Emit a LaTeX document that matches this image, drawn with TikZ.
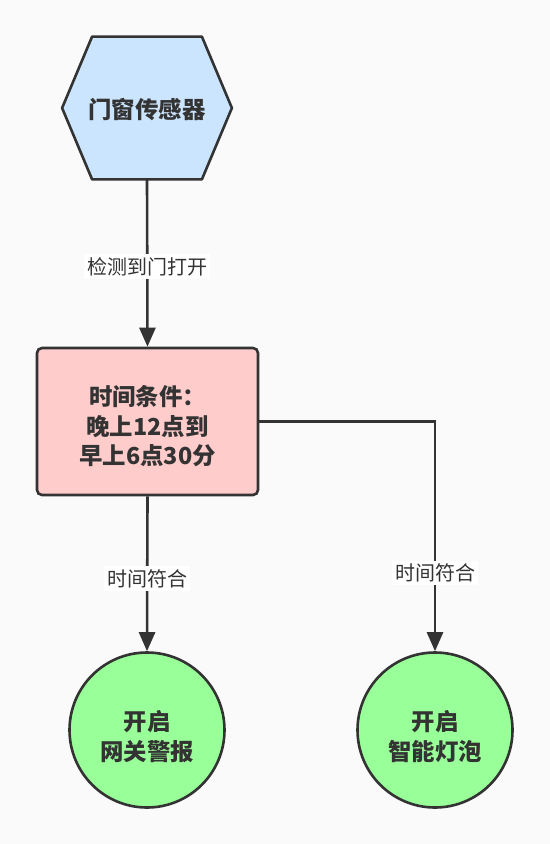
\documentclass[tikz,border=0pt]{standalone}
\usepackage{fontspec}
\setmainfont{Noto Sans CJK SC}
\usetikzlibrary{positioning,arrows.meta,calc,backgrounds}

\definecolor{trazo}{HTML}{333333}
\definecolor{azul}{HTML}{CCE5FF}
\definecolor{rojo}{HTML}{FFCCCC}
\definecolor{verde}{HTML}{99FF99}
\definecolor{fondo}{HTML}{FAFAFA}

\tikzset{
	nodo/.style={text=trazo, font=\fontsize{11.7pt}{14.8pt}\selectfont\bfseries, align=center, inner sep=0pt},
	caja/.style={draw=trazo, line width=1.3pt, fill=rojo, rounded corners=2.5pt, minimum width=110.5pt, minimum height=73.5pt},
	bola/.style={circle, draw=trazo, line width=1.3pt, fill=verde, minimum size=77.5pt},
	flecha/.style={draw=trazo, line width=1.3pt, -{Triangle[length=9.5pt,width=8pt]}},
	etiqueta/.style={fill=white, text=trazo, font=\fontsize{10pt}{12pt}\selectfont, inner sep=1.5pt}
}

\begin{document}
\begin{tikzpicture}[x=0.5pt, y=-0.5pt]
	% Fondo
	\useasboundingbox (0,0) rectangle (550,844);

	% Nodos
	\node [minimum width=84.5pt, minimum height=71pt, inner sep=0pt,
		label={[nodo, yshift=-1pt]center:门窗传感器}] (sensor) at (147,108) {};
	\node [caja, label={[nodo, yshift=-2.5pt]center:时间条件：\\晚上12点到\\早上6点30分}] (horario) at (147.5,421.5) {};
	\node [bola, label={[nodo, yshift=-3.2pt]center:开启\\网关警报}] (alarma) at (147,730) {};
	\node [bola, label={[nodo, yshift=-3.2pt]center:开启\\智能灯泡}] (bombilla) at (435,730) {};

	% Hexagono
	\begin{scope}[on background layer]
		\fill [fondo] (0,0) rectangle (550,844);
		\filldraw [fill=azul, draw=trazo, line width=1.3pt, line join=round]
			(sensor.west) -- ($(sensor.north west)+(30,0)$) -- ($(sensor.north east)+(-30,0)$)
			-- (sensor.east) -- ($(sensor.south east)+(-30,0)$) -- ($(sensor.south west)+(30,0)$) -- cycle;
	\end{scope}

	% Flechas
	\draw [flecha] (sensor.south) -- node [etiqueta, pos=0.52] {检测到门打开} (horario.north);
	\draw [flecha] (horario.south) -- node [etiqueta, pos=0.53] {时间符合} (alarma.north);
	\draw [flecha] (horario.east) -| node [etiqueta, pos=0.83] {时间符合} (bombilla.north);
\end{tikzpicture}
\end{document}
